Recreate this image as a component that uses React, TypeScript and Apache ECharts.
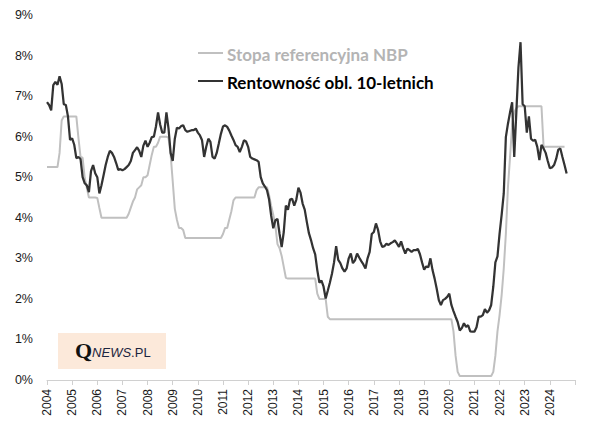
import React, { useEffect, useRef } from "react";
import * as echarts from "echarts";

const START_YEAR = 2004;
const X_MIN = 2004;
const X_MAX = 2025;
const Y_MIN = 0;
const Y_MAX = 9;

const seriesNames = ["Stopa referencyjna NBP", "Rentowność obl. 10-letnich"];
const seriesColors = ["#c0c0c0", "#333333"];
const legendTextColors = ["#b4b4b4", "#000000"];

// NBP reference rate, monthly from Jan 2004
const refRate = [
  5.25, 5.25, 5.25, 5.25, 5.25, 5.25, 5.6, 6.4, 6.5, 6.5, 6.5, 6.5, // 2004
  6.5, 6.5, 6.5, 5.97, 5.5, 5.48, 4.98, 4.74, 4.5, 4.5, 4.5, 4.5, // 2005
  4.49, 4.24, 4.0, 4.0, 4.0, 4.0, 4.0, 4.0, 4.0, 4.0, 4.0, 4.0, // 2006
  4.0, 4.0, 4.0, 4.1, 4.25, 4.4, 4.5, 4.7, 4.75, 4.8, 5.0, 5.0, // 2007
  5.05, 5.3, 5.55, 5.75, 5.75, 5.85, 6.0, 6.0, 6.0, 6.0, 5.97, 5.56, // 2008
  4.9, 4.22, 3.95, 3.75, 3.75, 3.7, 3.5, 3.5, 3.5, 3.5, 3.5, 3.5, // 2009
  3.5, 3.5, 3.5, 3.5, 3.5, 3.5, 3.5, 3.5, 3.5, 3.5, 3.5, 3.5, // 2010
  3.6, 3.75, 3.75, 3.96, 4.16, 4.43, 4.5, 4.5, 4.5, 4.5, 4.5, 4.5, // 2011
  4.5, 4.5, 4.5, 4.5, 4.68, 4.75, 4.75, 4.75, 4.75, 4.75, 4.56, 4.29, // 2012
  4.07, 3.8, 3.35, 3.25, 3.06, 2.79, 2.52, 2.5, 2.5, 2.5, 2.5, 2.5, // 2013
  2.5, 2.5, 2.5, 2.5, 2.5, 2.5, 2.5, 2.5, 2.5, 2.13, 2.0, 2.0, // 2014
  2.0, 2.0, 1.56, 1.5, 1.5, 1.5, 1.5, 1.5, 1.5, 1.5, 1.5, 1.5, // 2015
  1.5, 1.5, 1.5, 1.5, 1.5, 1.5, 1.5, 1.5, 1.5, 1.5, 1.5, 1.5, // 2016
  1.5, 1.5, 1.5, 1.5, 1.5, 1.5, 1.5, 1.5, 1.5, 1.5, 1.5, 1.5, // 2017
  1.5, 1.5, 1.5, 1.5, 1.5, 1.5, 1.5, 1.5, 1.5, 1.5, 1.5, 1.5, // 2018
  1.5, 1.5, 1.5, 1.5, 1.5, 1.5, 1.5, 1.5, 1.5, 1.5, 1.5, 1.5, // 2019
  1.5, 1.5, 1.2, 0.6, 0.2, 0.1, 0.1, 0.1, 0.1, 0.1, 0.1, 0.1, // 2020
  0.1, 0.1, 0.1, 0.1, 0.1, 0.1, 0.1, 0.1, 0.1, 0.2, 0.6, 1.2, // 2021
  1.6, 2.1, 2.75, 3.6, 4.76, 5.5, 6.3, 6.6, 6.7, 6.75, 6.75, 6.75, // 2022
  6.75, 6.75, 6.75, 6.75, 6.75, 6.75, 6.75, 6.75, 6.75, 5.75, 5.75, 5.75, // 2023
  5.75, 5.75, 5.75, 5.75, 5.75, 5.75, 5.75, 5.75, // 2024
];

// 10-year Polish government bond yield, monthly from Jan 2004
const bondYield = [
  6.85, 6.78, 6.65, 7.27, 7.35, 7.28, 7.49, 7.3, 6.8, 6.78, 6.5, 5.92, // 2004
  5.96, 5.8, 5.47, 5.5, 5.45, 5.0, 4.85, 4.8, 4.63, 5.15, 5.3, 5.1, // 2005
  5.0, 4.6, 4.8, 5.05, 5.3, 5.5, 5.65, 5.6, 5.5, 5.35, 5.18, 5.2, // 2006
  5.17, 5.2, 5.25, 5.3, 5.4, 5.6, 5.67, 5.74, 5.65, 5.5, 5.78, 5.9, // 2007
  5.75, 5.85, 5.99, 6.0, 6.25, 6.6, 6.3, 6.1, 6.1, 6.6, 6.2, 5.6, // 2008
  5.4, 5.95, 6.22, 6.2, 6.26, 6.28, 6.16, 6.12, 6.14, 6.16, 6.16, 6.2, // 2009
  6.1, 6.03, 5.91, 5.5, 5.75, 5.95, 5.87, 5.5, 5.46, 5.6, 5.83, 6.07, // 2010
  6.25, 6.28, 6.24, 6.15, 6.03, 5.92, 5.79, 5.75, 5.62, 5.75, 5.91, 5.88, // 2011
  5.75, 5.5, 5.46, 5.44, 5.42, 5.38, 5.0, 4.85, 4.77, 4.68, 4.45, 4.05, // 2012
  3.74, 3.94, 3.97, 3.6, 3.28, 3.65, 4.3, 4.2, 4.45, 4.47, 4.3, 4.45, // 2013
  4.74, 4.62, 4.35, 4.2, 3.9, 3.62, 3.45, 3.25, 3.1, 2.71, 2.4, 2.45, // 2014
  2.3, 2.01, 2.2, 2.4, 2.62, 2.9, 3.3, 2.96, 2.88, 2.75, 2.67, 2.75, // 2015
  3.0, 3.12, 2.88, 2.95, 3.12, 3.02, 2.93, 2.85, 2.75, 3.0, 3.16, 3.6, // 2016
  3.65, 3.86, 3.7, 3.42, 3.28, 3.3, 3.36, 3.33, 3.37, 3.4, 3.44, 3.37, // 2017
  3.28, 3.42, 3.25, 3.12, 3.24, 3.2, 3.16, 3.2, 3.2, 3.23, 3.1, 2.9, // 2018
  2.72, 2.8, 2.78, 3.0, 2.71, 2.5, 2.25, 1.97, 1.85, 1.97, 2.0, 2.05, // 2019
  2.13, 1.85, 1.7, 1.56, 1.43, 1.22, 1.28, 1.4, 1.31, 1.35, 1.2, 1.19, // 2020
  1.19, 1.3, 1.56, 1.56, 1.6, 1.75, 1.66, 1.72, 1.85, 2.3, 2.9, 3.05, // 2021
  3.61, 4.08, 4.6, 5.99, 6.32, 6.6, 6.85, 5.5, 6.6, 7.7, 8.33, 6.8, // 2022
  6.75, 6.1, 6.5, 5.95, 5.9, 5.92, 5.75, 5.42, 5.8, 5.71, 5.6, 5.4, // 2023
  5.22, 5.24, 5.3, 5.45, 5.68, 5.71, 5.5, 5.3, 5.09, // 2024
];

const toPairs = (arr: number[]) => arr.map((v, i) => [START_YEAR + i / 12, v]);

export default function App() {
  const ref = useRef<HTMLDivElement>(null);

  useEffect(() => {
    if (!ref.current) return;
    const chart = echarts.init(ref.current, null, { renderer: "svg" });
    const labelFont = "'Liberation Sans', Arial, sans-serif";
    const legendFont = "Lato, 'Liberation Sans', sans-serif";
    const legendRows = [53, 81];
    const legendGraphics: any[] = [];
    seriesNames.forEach((name, k) => {
      legendGraphics.push({
        type: "line",
        silent: true,
        shape: { x1: 198, y1: legendRows[k], x2: 223, y2: legendRows[k] },
        style: { stroke: seriesColors[k], lineWidth: 2 },
      });
      legendGraphics.push({
        type: "text",
        silent: true,
        x: 227,
        y: legendRows[k] + 1,
        style: {
          text: name,
          fontFamily: legendFont,
          fontWeight: "bold",
          fontSize: 17,
          fill: legendTextColors[k],
          verticalAlign: "middle",
          align: "left",
        },
      });
    });

    chart.setOption({
      animation: false,
      backgroundColor: "#ffffff",
      grid: { left: 47, right: 27, top: 15, bottom: 50, containLabel: false },
      xAxis: {
        type: "value",
        min: X_MIN,
        max: X_MAX,
        interval: 1,
        axisLine: { show: true, lineStyle: { color: "#d0d0d0", width: 1 } },
        axisTick: { show: true, length: 5, lineStyle: { color: "#d0d0d0", width: 1 } },
        splitLine: { show: false },
        axisLabel: {
          rotate: 90,
          margin: 9,
          fontSize: 12,
          fontFamily: labelFont,
          color: "#1a1a1a",
          showMaxLabel: true,
          formatter: (v: number) => (v >= X_MAX ? "" : String(v)),
        },
      },
      yAxis: {
        type: "value",
        min: Y_MIN,
        max: Y_MAX,
        interval: 1,
        axisLine: { show: false },
        axisTick: { show: false },
        splitLine: { show: false },
        axisLabel: {
          margin: 14,
          fontSize: 12.5,
          fontFamily: labelFont,
          color: "#1a1a1a",
          formatter: "{value}%",
        },
      },
      legend: { show: false, data: seriesNames },
      series: [
        {
          name: seriesNames[0],
          type: "line",
          data: toPairs(refRate),
          showSymbol: false,
          symbol: "none",
          itemStyle: { color: seriesColors[0] },
          lineStyle: { color: seriesColors[0], width: 2 },
          z: 2,
        },
        {
          name: seriesNames[1],
          type: "line",
          data: toPairs(bondYield),
          showSymbol: false,
          symbol: "none",
          itemStyle: { color: seriesColors[1] },
          lineStyle: { color: seriesColors[1], width: 2.25 },
          z: 3,
        },
      ],
      graphic: [
        ...legendGraphics,
        {
          type: "rect",
          silent: true,
          shape: { x: 58, y: 333, width: 108, height: 36 },
          style: { fill: "#fce9da" },
        },
        {
          type: "text",
          silent: true,
          x: 75,
          y: 361,
          style: {
            text: "{q|Q}{n|NEWS}{p|.PL}",
            verticalAlign: "bottom",
            rich: {
              q: {
                fontFamily: "'Liberation Serif', 'DejaVu Serif', serif",
                fontWeight: "bold",
                fontSize: 22,
                fill: "#111111",
                verticalAlign: "bottom",
              },
              n: {
                fontFamily: "'Liberation Sans', sans-serif",
                fontStyle: "italic",
                fontSize: 13,
                fill: "#1c2540",
                verticalAlign: "bottom",
                padding: [0, 0, 2, 0],
              },
              p: {
                fontFamily: "'Liberation Sans', sans-serif",
                fontSize: 13,
                fill: "#1c2540",
                verticalAlign: "bottom",
                padding: [0, 0, 2, 0],
              },
            },
          },
        },
      ],
    });
    return () => chart.dispose();
  }, []);

  return (
    <div
      ref={ref}
      style={{ position: "absolute", left: 0, top: 0, width: 602, height: 430, background: "#fff" }}
    />
  );
}
